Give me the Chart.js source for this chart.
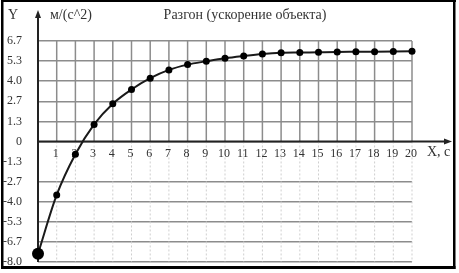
<!DOCTYPE html>
<html>
<head>
<meta charset="utf-8">
<script src="https://cdn.jsdelivr.net/npm/chart.js@4"></script>
<style>
    html, body { margin: 0; padding: 0; background: #fff; }
    #wrap { width: 459px; height: 273px; }
</style>
</head>
<body>
<div id="wrap"><canvas id="grafico" width="459" height="273"></canvas></div>
<script>
// Данные: время (с) и ускорение (м/с^2)
const tiempo = [0, 1, 2, 3, 4, 5, 6, 7, 8, 9, 10, 11, 12, 13, 14, 15, 16, 17, 18, 19, 20];
const aceleracion = [-7.45, -3.55, -0.85, 1.13, 2.5, 3.45, 4.2, 4.75, 5.1, 5.32, 5.52, 5.67, 5.8, 5.88, 5.9, 5.92, 5.94, 5.95, 5.96, 5.97, 5.98];
const xTicks = [1, 2, 3, 4, 5, 6, 7, 8, 9, 10, 11, 12, 13, 14, 15, 16, 17, 18, 19, 20];
const yTicks = [-8, -20 / 3, -16 / 3, -4, -8 / 3, -4 / 3, 0, 4 / 3, 8 / 3, 4, 16 / 3, 20 / 3];
const titulo = 'Разгон (ускорение объекта)';
const unidadY = 'м/(с^2)';
const nombreY = 'Y';
const nombreX = 'X, с';

const fuente = '"Liberation Serif", "DejaVu Serif", serif';
const gris = '#8c8c8c';

// Rejilla vertical, ejes con flechas, textos y marco
const decor = {
    id: 'decor',
    beforeDatasetsDraw(chart) {
        const { ctx, scales: { x, y } } = chart;
        const y0 = y.getPixelForValue(0);
        const yTop = y.getPixelForValue(20 / 3);
        const yBot = y.getPixelForValue(-8);
        ctx.save();
        xTicks.forEach(v => {
            const px = x.getPixelForValue(v);
            ctx.setLineDash([]);
            ctx.strokeStyle = gris;
            ctx.lineWidth = 1.5;
            ctx.beginPath(); ctx.moveTo(px, yTop); ctx.lineTo(px, y0); ctx.stroke();
            ctx.setLineDash([2, 2]);
            ctx.strokeStyle = '#cfcfcf';
            ctx.lineWidth = 1;
            ctx.beginPath(); ctx.moveTo(px, y0); ctx.lineTo(px, yBot); ctx.stroke();
        });
        ctx.setLineDash([]);
        ctx.strokeStyle = '#222';
        ctx.fillStyle = '#222';
        ctx.lineWidth = 2;
        const x0 = x.getPixelForValue(0);
        // eje Y
        ctx.beginPath(); ctx.moveTo(x0, yBot); ctx.lineTo(x0, 16); ctx.stroke();
        ctx.beginPath(); ctx.moveTo(x0, 10); ctx.lineTo(x0 - 3, 18); ctx.lineTo(x0 + 3, 18); ctx.closePath(); ctx.fill();
        // eje X
        ctx.beginPath(); ctx.moveTo(x0, y0); ctx.lineTo(446, y0); ctx.stroke();
        ctx.beginPath(); ctx.moveTo(452, y0); ctx.lineTo(444, y0 - 3); ctx.lineTo(444, y0 + 3); ctx.closePath(); ctx.fill();
        // etiquetas del eje X sobre la línea del cero
        ctx.fillStyle = '#333';
        ctx.font = '12px ' + fuente;
        ctx.textAlign = 'center';
        ctx.textBaseline = 'middle';
        xTicks.forEach(v => ctx.fillText(String(v), x.getPixelForValue(v) - 1, y0 + 12));
        ctx.restore();
    },
    afterDraw(chart) {
        const { ctx, scales: { y } } = chart;
        ctx.save();
        ctx.fillStyle = '#333';
        ctx.textBaseline = 'middle';
        ctx.font = '14px ' + fuente;
        ctx.textAlign = 'center';
        ctx.fillText(titulo, 245, 15);
        ctx.textAlign = 'left';
        ctx.fillText(unidadY, 50, 15);
        ctx.fillText(nombreY, 8, 15);
        ctx.fillText(nombreX, 427, y.getPixelForValue(0) + 11);
        // marco
        ctx.fillStyle = '#000';
        ctx.fillRect(1, 0, 455, 2);
        ctx.fillRect(1, 0, 2.5, 269);
        ctx.fillRect(453, 0, 2.5, 269);
        ctx.fillRect(1, 266, 454.5, 3);
        ctx.restore();
    }
};

new Chart(document.getElementById('grafico'), {
    type: 'line',
    data: {
        datasets: [{
            data: tiempo.map((t, i) => ({ x: t, y: aceleracion[i] })),
            borderColor: '#1a1a1a',
            borderWidth: 2,
            pointBackgroundColor: '#000',
            pointBorderWidth: 0,
            pointRadius: ctx => ctx.dataIndex === 0 ? 6 : 3.5,
            cubicInterpolationMode: 'monotone',
            clip: false
        }]
    },
    options: {
        responsive: false,
        animation: false,
        layout: { padding: { top: 41, right: 47, bottom: 11, left: 0 } },
        plugins: { legend: { display: false }, tooltip: { enabled: false } },
        scales: {
            x: {
                type: 'linear',
                min: 0, max: 20,
                display: false
            },
            y: {
                type: 'linear',
                min: -8, max: 20 / 3,
                afterBuildTicks: s => { s.ticks = yTicks.map(v => ({ value: v })); },
                afterFit: s => { s.width = 38; },
                grid: {
                    color: ctx => (ctx.tick && Math.abs(ctx.tick.value + 4 / 3) < 0.01) ? 'rgba(0,0,0,0)' : gris,
                    lineWidth: 1.5,
                    drawTicks: true,
                    tickLength: 16,
                    tickColor: 'rgba(0,0,0,0)'
                },
                border: { display: false },
                ticks: {
                    color: '#333',
                    font: { family: fuente, size: 12 },
                    padding: 0,
                    callback: v => Math.abs(v) < 1e-9 ? '0' : v.toFixed(1)
                }
            }
        }
    },
    plugins: [decor]
});
</script>
</body>
</html>
